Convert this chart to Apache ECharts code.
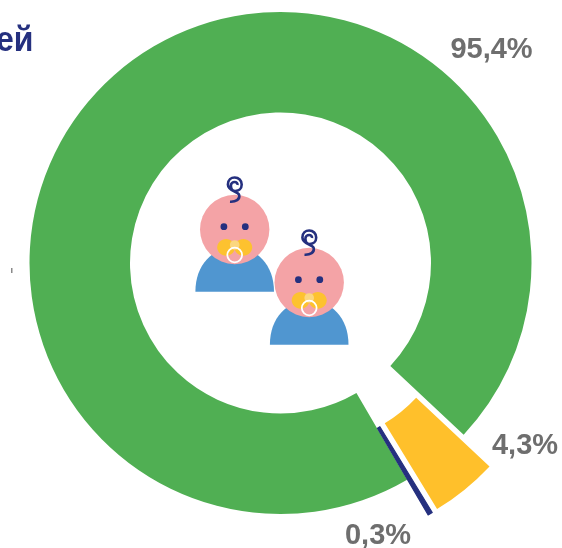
<!DOCTYPE html>
<html>
<head>
<meta charset="utf-8">
<style>
  html, body { margin: 0; padding: 0; background: #fff; }
  #chart { width: 562px; height: 548px; }
</style>
<script src="https://cdn.jsdelivr.net/npm/echarts@6/dist/echarts.min.js"></script>
</head>
<body>
<div id="chart"></div>
<script>
var sliceNames = ["A", "B", "C"];
var sliceValues = [95.4, 4.3, 0.3];
var sliceColors = ["#50AF53", "#FFC02B", "#25307F"];
var sliceLabels = ["95,4%", "4,3%", "0,3%"];
var sliceExploded = [false, true, true];
var labelSpots = [[491.5, 50], [525, 446], [378, 536]];

var skin = "#F4A3A6";
var shirt = "#5096D0";
var binky = "#FDC22F";
var navy = "#25307F";
var labelFont = "bold 29px 'Liberation Sans', Arial, sans-serif";

// контуры для фигурки
echarts.graphic.registerShape(
  "babyShirt",
  echarts.graphic.extendPath("M-39.3 62.2 C-39.3 35 -22 18 0 18 C22 18 39.3 35 39.3 62.2 Z")
);
echarts.graphic.registerShape(
  "babyCurl",
  echarts.graphic.extendPath(
    "M-4.7 -27.8 C1 -27.5 5.5 -30 4.5 -34.5 C3.5 -38.5 -6.8 -38 -6.8 -45 C-6.8 -49.5 -3.5 -52 0 -52 C4 -52 7 -49 7 -45 C7 -41 4 -38.5 0.5 -38.5 C-2 -38.5 -3.8 -41 -3.8 -44 C-3.8 -46 -2 -47.5 0 -47.5 C1.8 -47.5 3 -46 2.8 -44.5"
  )
);

// одна фигурка, координаты от центра головы
function baby(x, y) {
  return {
    type: "group",
    x: x,
    y: y,
    silent: true,
    children: [
      { type: "babyShirt", style: { fill: shirt } },
      { type: "circle", shape: { cx: 0, cy: 0, r: 34.7 }, style: { fill: skin } },
      { type: "circle", shape: { cx: -10.8, cy: -2.8, r: 3.4 }, style: { fill: navy } },
      { type: "circle", shape: { cx: 10.6, cy: -2.8, r: 3.4 }, style: { fill: navy } },
      { type: "ellipse", shape: { cx: -8.6, cy: 17.8, rx: 8.9, ry: 8.4 }, style: { fill: binky } },
      { type: "ellipse", shape: { cx: 8.6, cy: 17.8, rx: 8.9, ry: 8.4 }, style: { fill: binky } },
      { type: "circle", shape: { cx: 0, cy: 15.5, r: 4.8 }, style: { fill: "#FBD77F" } },
      {
        type: "circle",
        shape: { cx: 0, cy: 25.5, r: 7.4 },
        style: { fill: "transparent", stroke: "#fff", lineWidth: 1.8 },
      },
      { type: "babyCurl", style: { fill: "transparent", stroke: navy, lineWidth: 2.6 } },
    ],
  };
}

// подписи долей
var labelTexts = sliceLabels.map(function (t, i) {
  return {
    type: "text",
    x: labelSpots[i][0],
    y: labelSpots[i][1],
    silent: true,
    style: {
      text: t,
      fill: "#6E6E6E",
      align: "center",
      verticalAlign: "middle",
      font: labelFont,
    },
  };
});

var chart = echarts.init(document.getElementById("chart"));

chart.setOption({
  animation: false,
  graphic: [
    baby(234.7, 229.5),
    baby(309.2, 282.5),
    {
      type: "text",
      x: 33.5,
      y: 41,
      scaleY: 1.12,
      style: {
        text: "ей",
        fill: navy,
        align: "right",
        verticalAlign: "middle",
        font: "bold 32px 'Liberation Sans', Arial, sans-serif",
      },
    },
    {
      type: "rect",
      shape: { x: 11, y: 268, width: 1.5, height: 5 },
      style: { fill: "#8a8a8a" },
    },
  ].concat(labelTexts),
  series: [
    {
      type: "pie",
      center: [280.5, 263],
      radius: [150.5, 251],
      startAngle: 300.3,
      clockwise: true,
      avoidLabelOverlap: false,
      selectedMode: "multiple",
      selectedOffset: 41,
      emphasis: { disabled: true },
      label: { show: false },
      labelLine: { show: false },
      data: sliceValues.map(function (v, i) {
        return {
          name: sliceNames[i],
          value: v,
          selected: sliceExploded[i],
          itemStyle: {
            color: sliceColors[i],
            borderColor: sliceColors[i],
            borderWidth: i === 2 ? 1.2 : 0,
          },
        };
      }),
    },
  ],
});

window.addEventListener("resize", function () {
  chart.resize();
});
</script>
</body>
</html>
